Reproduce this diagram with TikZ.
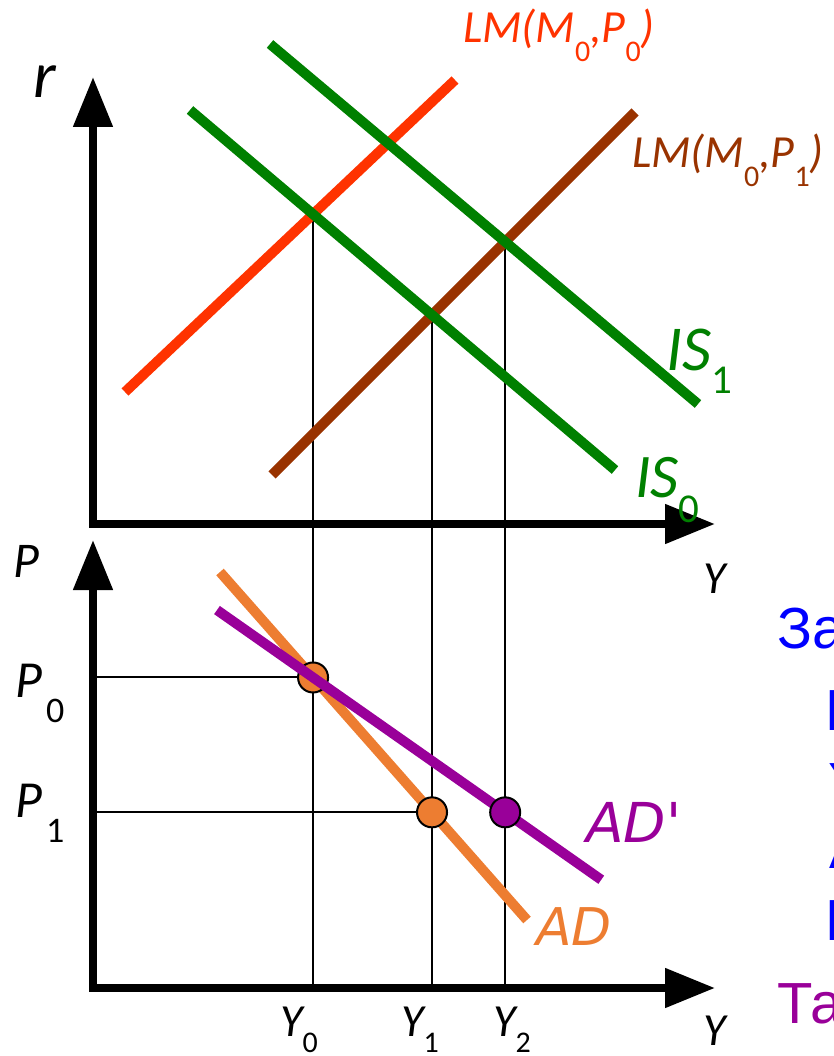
\documentclass[tikz,border=0pt]{standalone}
\usepackage{fontspec}
\setmainfont{Carlito}
\newfontfamily\dejavu{DejaVu Sans}
\newfontfamily\arialfont{Liberation Sans}
\usetikzlibrary{arrows.meta, calc}

\definecolor{lmred}{RGB}{255,51,0}
\definecolor{lmbrown}{RGB}{153,51,0}
\definecolor{isgreen}{RGB}{0,128,0}
\definecolor{adorange}{RGB}{237,125,49}
\definecolor{adpurple}{RGB}{153,0,153}

\newcommand{\fs}[1]{\fontsize{#1}{#1}\selectfont}
\newcommand{\lowsub}[3]{\raisebox{-#2}{\fs{#1}\upshape #3}}

\begin{document}
\begin{tikzpicture}[
        x=1pt, y=-1pt,
        axis/.style={line width=8pt, line join=miter, {Triangle[length=50pt, width=38pt]}-{Triangle[length=50pt, width=38pt]}},
        guide/.style={line width=2pt},
        curve/.style={line width=10pt},
        dot/.style={circle, draw=black, line width=2pt, minimum size=30pt, inner sep=0pt},
        lbl/.style={anchor=base west, inner sep=0pt, font=\itshape},
        txt/.style={anchor=base west, inner sep=0pt, font=\arialfont\fs{58}}
    ]
    \useasboundingbox (0,0) rectangle (834,1056);

    % Corners of the two panels
    \coordinate (o1) at (93,524);
    \coordinate (o2) at (93,988);

    % IS-LM curve ends
    \coordinate (lm0a) at (125,392);
    \coordinate (lm0b) at (455,80);
    \coordinate (lm1a) at (272,475);
    \coordinate (lm1b) at (635,112);
    \coordinate (is0a) at (190,110);
    \coordinate (is0b) at (615,470);
    \coordinate (is1a) at (270,44);
    \coordinate (is1b) at (698,404);

    % Equilibria
    \coordinate (e0) at (intersection of lm0a--lm0b and is0a--is0b);
    \coordinate (e1) at (intersection of lm1a--lm1b and is0a--is0b);
    \coordinate (e2) at (intersection of lm1a--lm1b and is1a--is1b);
    \coordinate (f0) at (e0 |- o2);
    \coordinate (f1) at (e1 |- o2);
    \coordinate (f2) at (e2 |- o2);

    % AD curve
    \coordinate (ada) at (220,572);
    \coordinate (adb) at (527,920);
    \coordinate (p0) at (intersection of ada--adb and e0--f0);
    \coordinate (p1) at (intersection of ada--adb and e1--f1);
    \coordinate (q2) at (e2 |- p1);

    % Guides
    \draw[guide] (e0) -- (f0);
    \draw[guide] (e1) -- (f1);
    \draw[guide] (e2) -- (f2);
    \draw[guide] (p0) -- (p0 -| o2);
    \draw[guide] (p1) -- (p1 -| o2);

    % Curves
    \draw[curve, lmred] (lm0a) -- (lm0b);
    \draw[curve, lmbrown] (lm1a) -- (lm1b);
    \draw[curve, isgreen] (is0a) -- (is0b);
    \draw[curve, isgreen] (is1a) -- (is1b);
    \draw[curve, adorange] (ada) -- (adb);
    \node[dot, fill=adorange] (c0) at (p0) {};
    \node[dot, fill=adorange] (c1) at (p1) {};
    \draw[curve, adpurple] ($(p0)!-0.5!(q2)$) -- ($(p0)!1.5!(q2)$);
    \node[dot, fill=adpurple] (c2) at (q2) {};

    % Axes
    \draw[axis] (93,77) -- (o1) -- (715,524);
    \draw[axis] (93,540) -- (o2) -- (715,988);

    % Labels
    \node[lbl] (rlab) at (33,98) {\fs{66}r};
    \node[lbl] (ytop) at (703,593) {\fs{46}Y};
    \node[lbl] (ybot) at (703,1045) {\fs{46}Y};
    \node[lbl] (plab) at (13,577) {\fs{50}P};
    \node[lbl] (pzero) at (15,697) {\fs{52}P\hspace{4pt}\lowsub{36}{25pt}{0}};
    \node[lbl] (pone) at (15,817) {\fs{52}P\hspace{4pt}\lowsub{36}{25pt}{1}};
    \node[lbl] (yzero) at (280,1036) {\fs{46}Y\lowsub{30}{16pt}{0}};
    \node[lbl] (yone) at (401,1036) {\fs{46}Y\lowsub{30}{16pt}{1}};
    \node[lbl] (ytwo) at (493,1036) {\fs{46}Y\lowsub{30}{16pt}{2}};
    \node[lbl, text=lmred] (lmzero) at (463,43) {\fs{46}LM(M\lowsub{30}{19pt}{0},P\lowsub{30}{19pt}{0})};
    \node[lbl, text=lmbrown] (lmone) at (632,168) {\fs{46}LM(M\lowsub{30}{19pt}{0},P\lowsub{30}{19pt}{1})};
    \node[lbl, text=isgreen] (isone) at (666,370) {\fs{64}IS\lowsub{41}{23pt}{1}};
    \node[lbl, text=isgreen] (iszero) at (635,497) {\fs{62}IS\lowsub{41}{25pt}{0}};
    \node[lbl, text=adpurple] (adnew) at (586,842) {\dejavu\itshape\fs{55}AD\textquotesingle};
    \node[lbl, text=adorange] (adold) at (536,945) {\dejavu\itshape\fs{52}AD};

    % Side text
    \node[txt, text=blue] (za) at (777,648) {За};
    \node[txt, text=blue] (ltwo) at (825,730) {P};
    \node[txt, text=blue] (lthree) at (828,803) {Y};
    \node[txt, text=blue] (lfour) at (829,868) {A};
    \node[txt, text=blue] (lfive) at (825,940) {P};
    \node[txt, text=adpurple] (ta) at (777,1023) {Та};

\end{tikzpicture}
\end{document}
